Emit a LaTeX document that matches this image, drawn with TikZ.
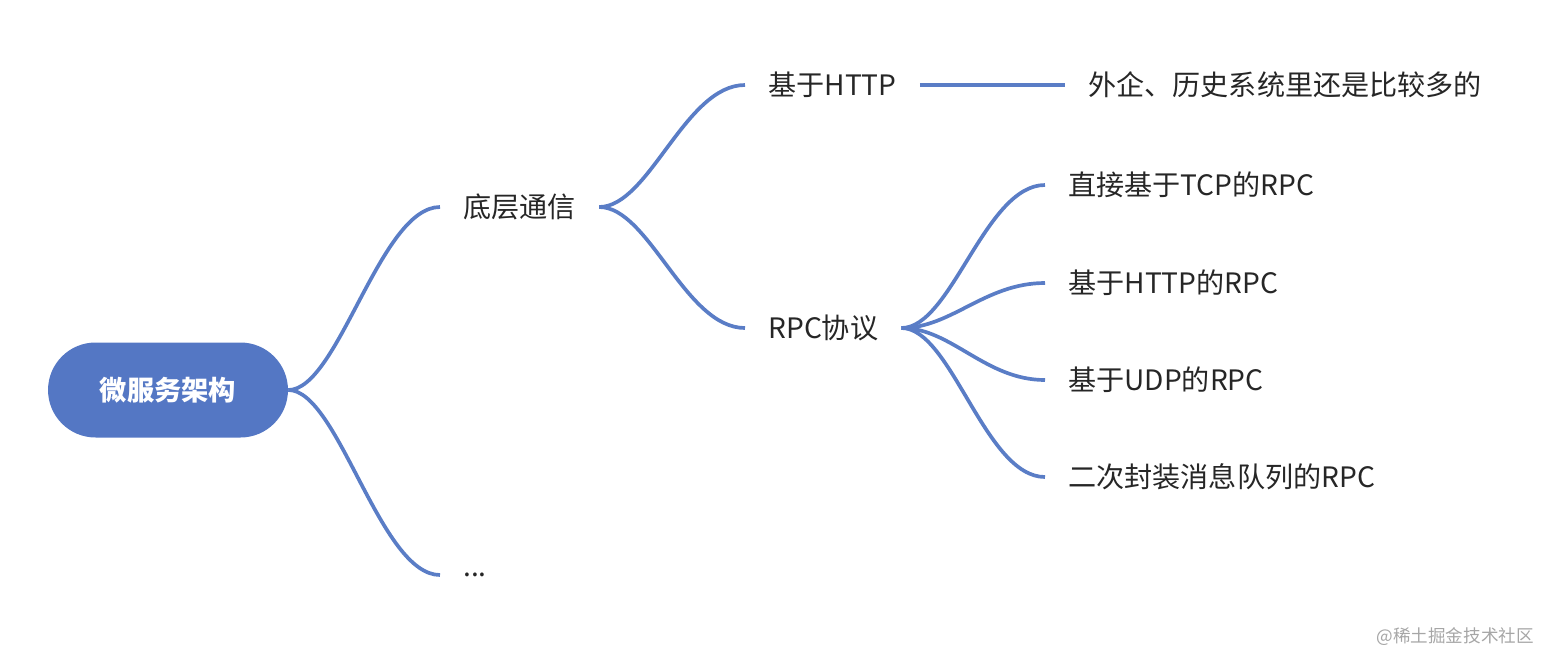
\documentclass[tikz,border=0pt]{standalone}
\usepackage{fontspec}
\usetikzlibrary{calc}
\setmainfont{Noto Sans CJK SC}
\definecolor{blu}{HTML}{5477C4}
\definecolor{edg}{HTML}{5A7DC6}
\tikzset{
  lbl/.style={inner xsep=0.46cm, inner ysep=2pt, font=\fontsize{16pt}{18pt}\selectfont, text=black!85},
  root/.style={fill=blu, rounded corners=0.95cm, minimum width=4.8cm, minimum height=1.9cm, text=white, font=\fontsize{15.5pt}{17pt}\selectfont\bfseries},
  br/.style={draw=edg, line width=2.1pt},
}
\begin{document}
\begin{tikzpicture}[x=0.02cm,y=-0.02cm]
\useasboundingbox (0,0) rectangle (1544,660);
\node[root] (r) at (168,390) {微服务架构};
\node[lbl,anchor=west] (a) at (440,207) {底层通信};
\node[lbl,anchor=west] (e) at (440,575) {...};
\node[lbl,anchor=west] (h) at (745,85) {基于HTTP};
\node[lbl,anchor=west] (p) at (745,328) {RPC协议};
\node[lbl,anchor=west] (w) at (1065,85) {外企、历史系统里还是比较多的};
\node[lbl,anchor=west] (l1) at (1045,185) {直接基于TCP的RPC};
\node[lbl,anchor=west] (l2) at (1045,283) {基于HTTP的RPC};
\node[lbl,anchor=west] (l3) at (1045,380) {基于UDP的RPC};
\node[lbl,anchor=west] (l4) at (1045,477) {二次封装消息队列的RPC};
\node[anchor=south east, text=black!35, font=\fontsize{10pt}{12pt}\selectfont] (wm) at (1540,652) {@稀土掘金技术社区};
\foreach \s/\t in {r.east/a.west, r.east/e.west, a.east/h.west, a.east/p.west, p.east/l1.west, p.east/l2.west, p.east/l3.west, p.east/l4.west}{
  \draw[br] (\s) .. controls ($(\s)+(50,0)$) and ($(\t)+(-60,0)$) .. (\t);
}
\draw[br] (h.east) -- (w.west);
\end{tikzpicture}
\end{document}
